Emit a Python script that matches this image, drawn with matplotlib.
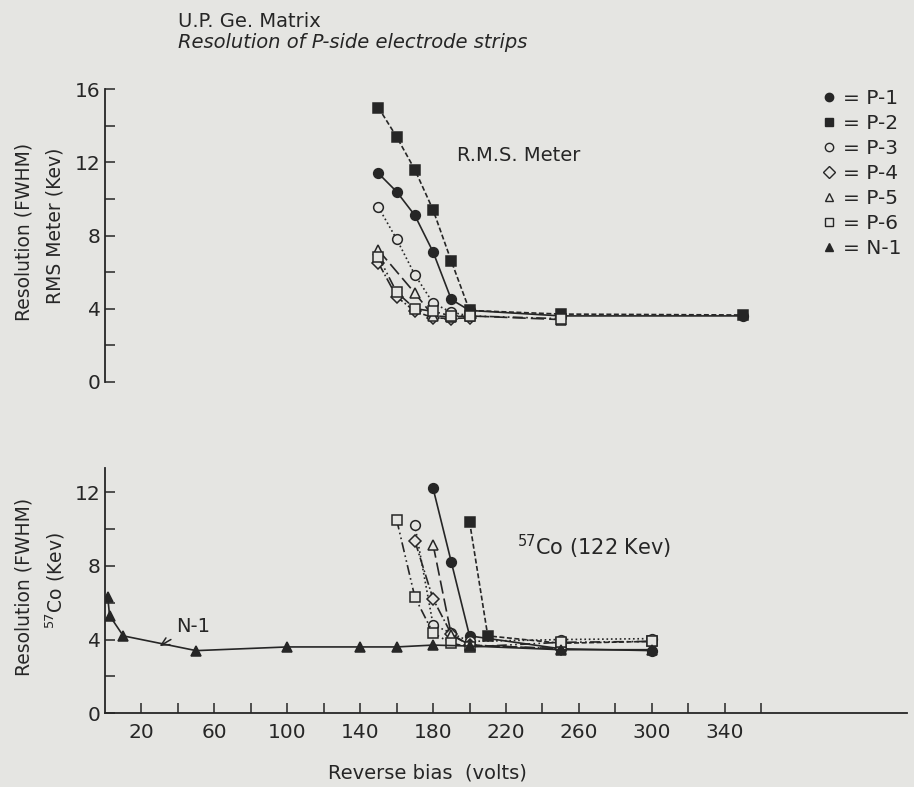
import numpy as np
import matplotlib.pyplot as plt
from matplotlib.lines import Line2D

# Data
# --- R.M.S. meter panel (top)
p1_rms_x = [150, 160, 170, 180, 190, 200, 250, 350]
p1_rms_y = [11.4, 10.4, 9.1, 7.1, 4.5, 3.9, 3.6, 3.6]
p2_rms_x = [150, 160, 170, 180, 190, 200, 250, 350]
p2_rms_y = [15.0, 13.4, 11.6, 9.4, 6.6, 3.9, 3.7, 3.65]
p3_rms_x = [150, 160, 170, 180, 190, 200]
p3_rms_y = [9.55, 7.8, 5.85, 4.3, 3.8, 3.6]
p4_rms_x = [150, 160, 170, 180, 190, 200]
p4_rms_y = [6.5, 4.65, 3.85, 3.5, 3.45, 3.5]
p5_rms_x = [150, 170, 180, 190, 200, 250]
p5_rms_y = [7.2, 4.85, 3.6, 3.55, 3.6, 3.4]
p6_rms_x = [150, 160, 170, 180, 190, 200, 250]
p6_rms_y = [6.85, 4.9, 4.0, 3.85, 3.6, 3.6, 3.45]

# --- 57Co panel (bottom)
p1_co_x = [180, 190, 200, 250, 300]
p1_co_y = [12.2, 8.2, 4.2, 3.5, 3.4]
p2_co_x = [200, 210, 250, 300]
p2_co_y = [10.4, 4.2, 3.8, 3.9]
p3_co_x = [170, 180, 190, 200, 250, 300]
p3_co_y = [10.2, 4.8, 4.35, 3.9, 4.0, 4.05]
p4_co_x = [170, 180, 190, 200, 250]
p4_co_y = [9.35, 6.2, 4.3, 3.7, 3.5]
p5_co_x = [180, 190, 200, 250]
p5_co_y = [9.15, 4.25, 3.7, 3.5]
p6_co_x = [160, 170, 180, 190, 200, 250, 300]
p6_co_y = [10.5, 6.3, 4.35, 3.8, 3.6, 3.85, 3.9]
n1_x = [1.5, 2.5, 10, 50, 100, 140, 160, 180, 200, 250, 300]
n1_y = [6.3, 5.3, 4.2, 3.4, 3.6, 3.6, 3.6, 3.7, 3.65, 3.45, 3.45]

names = ['P-1', 'P-2', 'P-3', 'P-4', 'P-5', 'P-6', 'N-1']

bg = '#e5e5e2'
ink = '#262626'
plt.rcParams['font.family'] = 'DejaVu Sans'
plt.rcParams['text.color'] = ink

# marker / line style per series
styles = {
    'P-1': dict(marker='o', mfc=ink, ls='-'),
    'P-2': dict(marker='s', mfc=ink, ls=(0, (3, 1.5))),
    'P-3': dict(marker='o', mfc=bg, ls=':'),
    'P-4': dict(marker='D', mfc=bg, ls='-.', ms=6),
    'P-5': dict(marker='^', mfc=bg, ls=(0, (8, 3))),
    'P-6': dict(marker='s', mfc=bg, ls=(0, (6, 2, 1, 2, 1, 2))),
    'N-1': dict(marker='^', mfc=ink, ls='-'),
}

fig = plt.figure(figsize=(9.14, 7.87), dpi=100, facecolor=bg)
ax1 = fig.add_axes([0.1149, 0.515, 0.8774, 0.3715])
ax2 = fig.add_axes([0.1149, 0.0936, 0.8774, 0.3117])

def draw(ax, name, x, y):
    st = dict(styles[name])
    ms = st.pop('ms', 7)
    ax.plot(x, y, color=ink, lw=1.2, marker=st['marker'], mfc=st['mfc'],
            mec=ink, mew=1.1, ms=ms, ls=st['ls'])

rms = [(p1_rms_x, p1_rms_y), (p2_rms_x, p2_rms_y), (p3_rms_x, p3_rms_y),
       (p4_rms_x, p4_rms_y), (p5_rms_x, p5_rms_y), (p6_rms_x, p6_rms_y)]
co = [(p1_co_x, p1_co_y), (p2_co_x, p2_co_y), (p3_co_x, p3_co_y),
      (p4_co_x, p4_co_y), (p5_co_x, p5_co_y), (p6_co_x, p6_co_y),
      (n1_x, n1_y)]

for name, (x, y) in zip(names, rms):
    draw(ax1, name, x, y)
for name, (x, y) in zip(names, co):
    draw(ax2, name, x, y)

for ax in (ax1, ax2):
    ax.set_facecolor(bg)
    ax.set_xlim(0, 440)
    for s in ('top', 'right'):
        ax.spines[s].set_visible(False)
    for s in ('left', 'bottom'):
        ax.spines[s].set_color(ink)
        ax.spines[s].set_linewidth(1.3)
    ax.tick_params(direction='in', length=7, width=1.1, color=ink,
                   labelsize=14.5, labelcolor=ink)

# top panel: only the left axis
ax1.set_ylim(0, 16)
ax1.spines['bottom'].set_visible(False)
ax1.set_xticks([])
ax1.set_yticks(np.arange(0, 17, 2))
ax1.set_yticklabels([str(v) if v % 4 == 0 else '' for v in range(0, 17, 2)])
ax1.tick_params(axis='y', pad=3)
ax1.text(193, 12.4, 'R.M.S. Meter', fontsize=14, va='center')

# bottom panel
ax2.set_ylim(0, 13.3)
ax2.set_yticks(np.arange(0, 13, 2))
ax2.set_yticklabels([str(v) if v % 4 == 0 else '' for v in range(0, 13, 2)])
ax2.tick_params(axis='y', pad=3)
xt = np.arange(20, 361, 20)
ax2.set_xticks(xt)
ax2.set_xticklabels([str(v) if (v - 20) % 40 == 0 else '' for v in xt])
ax2.tick_params(axis='x', pad=7)
ax2.text(226, 9.0, r'$^{57}$Co (122 Kev)', fontsize=15, va='center')
ax2.annotate('N-1', xy=(30, 3.65), xytext=(39, 4.7), fontsize=14,
             va='center', ha='left',
             arrowprops=dict(arrowstyle='->', color=ink, lw=1.1,
                             shrinkA=2, shrinkB=0))

# axis labels and titles
fig.text(0.195, 0.973, 'U.P. Ge. Matrix', fontsize=14, va='center')
fig.text(0.195, 0.946, 'Resolution of P-side electrode strips', fontsize=14,
         style='italic', va='center')
fig.text(0.026, 0.705, 'Resolution (FWHM)', rotation=90, fontsize=13.5,
         ha='center', va='center')
fig.text(0.060, 0.713, 'RMS Meter (Kev)', rotation=90, fontsize=13.5,
         ha='center', va='center')
fig.text(0.026, 0.254, 'Resolution (FWHM)', rotation=90, fontsize=13.5,
         ha='center', va='center')
fig.text(0.060, 0.262, r'$^{57}$Co (Kev)', rotation=90, fontsize=13.5,
         ha='center', va='center')
fig.text(0.468, 0.018, 'Reverse bias  (volts)', fontsize=14,
         ha='center', va='center')

# legend "marker = name"
handles = []
for name in names:
    st = styles[name]
    handles.append(Line2D([], [], ls='none', marker=st['marker'], mfc=st['mfc'],
                          mec=ink, mew=1.0, ms=6, color=ink))
fig.legend(handles, ['= ' + n for n in names], loc='upper right',
           bbox_to_anchor=(1.0, 0.902), frameon=False, fontsize=14.5,
           handlelength=0.8, handletextpad=0.3, labelspacing=0.3,
           borderaxespad=0.2)

fig.savefig('out.png', dpi=100, facecolor=bg)
